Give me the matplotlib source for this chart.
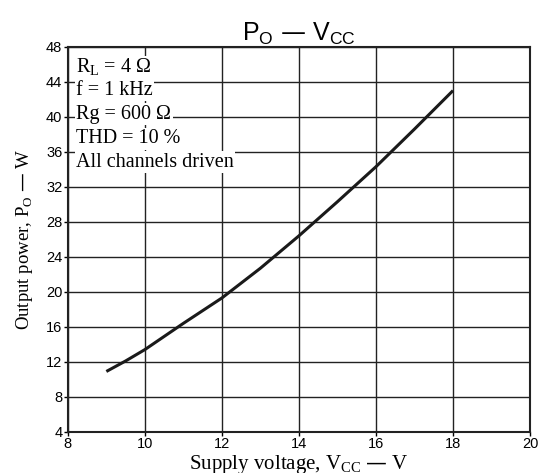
import matplotlib
matplotlib.use("Agg")
import matplotlib.pyplot as plt

vcc = [9.0, 9.5, 10.0, 11.0, 12.0, 13.0, 14.0, 15.0, 16.0, 17.0, 18.0]
po = [10.9, 12.1, 13.4, 16.4, 19.3, 22.7, 26.4, 30.3, 34.3, 38.6, 43.0]
xticks = [8, 10, 12, 14, 16, 18, 20]
yticks = [4, 8, 12, 16, 20, 24, 28, 32, 36, 40, 44, 48]
notes = ["R$_\\mathregular{L}$ = 4 Ω", "f = 1 kHz", "Rg = 600 Ω", "THD = 10 %", "All channels driven"]

serif = "Liberation Serif"
sans = "Liberation Sans"

fig = plt.figure(figsize=(5.47, 4.73), dpi=100)
ax = fig.add_axes([0.124, 0.087, 0.845, 0.814])
ax.set_xlim(8, 20)
ax.set_ylim(4, 48)
ax.set_xticks(xticks)
ax.set_yticks(yticks)
ax.grid(True, color="#222222", lw=1.0)
ax.set_axisbelow(True)
for s in ax.spines.values():
    s.set_linewidth(1.5)
    s.set_color("#222222")
ax.tick_params(direction="out", length=3, width=1, labelsize=10.5, pad=1)
for lab in ax.get_xticklabels() + ax.get_yticklabels():
    lab.set_fontfamily(sans)

ax.plot(vcc, po, color="#1a1a1a", lw=2.2, solid_capstyle="butt", zorder=3)

ys = [45.6, 43.0, 40.3, 37.5, 34.8]
for t, y in zip(notes, ys):
    ax.text(8.22, y, t, fontsize=14.5, family=serif, va="center", ha="left",
            bbox=dict(facecolor="white", edgecolor="none", pad=1.0), zorder=4)

ax.set_title("P$_\\mathregular{O}$ — V$_\\mathregular{CC}$", family=sans, fontsize=18, pad=3)
ax.set_xlabel("Supply voltage, V$_\\mathregular{CC}$ — V", family=serif, fontsize=15, labelpad=1)
ax.set_ylabel("Output power, P$_\\mathregular{O}$ — W", family=serif, fontsize=13.5, labelpad=8)

fig.savefig("out.png", dpi=100)
